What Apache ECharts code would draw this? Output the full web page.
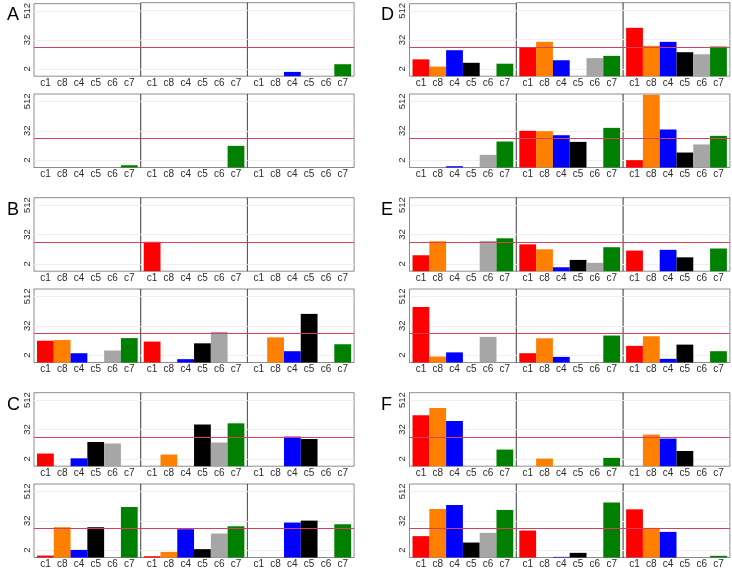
<!DOCTYPE html>
<html>
<head>
<meta charset="utf-8">
<script src="https://cdn.jsdelivr.net/npm/echarts@6/dist/echarts.min.js"></script>
<style>html,body{margin:0;padding:0;background:#fff}#chart{width:732px;height:572px}</style>
</head>
<body>
<div id="chart"></div>
<script>
// categories and colours
const cats = ['c1', 'c8', 'c4', 'c5', 'c6', 'c7'];
const barColors = ['#ff0000', '#ff7f00', '#0000ff', '#000000', '#a6a6a6', '#008000'];
const yTickValues = [2, 32, 512];
const threshold = 16;

// each block: three panels (left, middle, right), values per category (null = no bar)
const A1 = [
  [null, null, null, null, null, null],
  [null, null, null, null, null, null],
  [null, null, 1.5, null, null, 3.1]
];
const A2 = [
  [null, null, null, null, null, 1.24],
  [null, null, null, null, null, 7.7],
  [null, null, null, null, null, null]
];
const B1 = [
  [null, null, null, null, null, null],
  [16, null, null, null, null, null],
  [null, null, null, null, null, null]
];
const B2 = [
  [7.8, 8.3, 2.4, null, 3.1, 10],
  [7.2, null, 1.37, 6.1, 18, null],
  [null, 10.7, 2.9, 98, null, 5.6]
];
const C1 = [
  [3.3, null, 2.1, 9.8, 8.5, null],
  [null, 3.0, null, 51, 9.3, 57],
  [null, null, 16.3, 13, null, null]
];
const C2 = [
  [1.2, 17.4, 2.05, 17.4, null, 118],
  [1.13, 1.7, 14.4, 2.2, 9.6, 19],
  [null, null, 27, 32.4, null, 23]
];
const D1 = [
  [5, 2.5, 12, 3.6, null, 3.3],
  [15.5, 25.5, 4.5, null, 5.5, 6.8],
  [96, 17.5, 25.5, 9.6, 7.9, 16.4]
];
const D2 = [
  [null, null, 1.13, null, 3.3, 11.6],
  [31.8, 30.7, 21, 11.2, null, 42],
  [2.0, 950, 36, 4.1, 8.8, 19.8]
];
const E1 = [
  [4.5, 16.8, null, null, 17.4, 22.3],
  [12.6, 7.9, 1.45, 2.9, 2.2, 9.6],
  [7.0, null, 7.5, 3.7, null, 8.5]
];
const E2 = [
  [189, 1.75, 2.6, null, 11.2, null],
  [2.4, 9.8, 1.7, null, null, 12.7],
  [4.8, 11.9, 1.41, 5.4, null, 2.9]
];
const F1 = [
  [121, 242, 71, null, null, 4.8],
  [null, 2.05, null, null, null, 2.2],
  [null, 19.7, 13.5, 4.2, null, null]
];
const F2 = [
  [7.5, 97, 142, 4.1, 10.2, 89],
  [12.7, null, 1.06, 1.55, null, 177],
  [94, 16.3, 11.2, null, null, 1.17]
];

// layout
const groups = [
  {letter: 'A', rows: [A1, A2], col: 0, row: 0},
  {letter: 'B', rows: [B1, B2], col: 0, row: 1},
  {letter: 'C', rows: [C1, C2], col: 0, row: 2},
  {letter: 'D', rows: [D1, D2], col: 1, row: 0},
  {letter: 'E', rows: [E1, E2], col: 1, row: 1},
  {letter: 'F', rows: [F1, F2], col: 1, row: 2}
];
const colX = [34, 409.5];
const panelW = [106.7, 106.8];
const groupY = [2.7, 197.7, 392.7];
const rowOff = [0, 91.3];
const gridH = 73.5;
const letterX = [2, 376];
const FONT = '"Liberation Sans", Arial, Helvetica, sans-serif';
const RED_LINE = '#d6405f';

const grids = [], xAxes = [], yAxes = [], series = [], titles = [];
let idx = 0;
groups.forEach(g => {
  titles.push({
    text: g.letter, left: letterX[g.col], top: groupY[g.row] - 2,
    textStyle: {fontSize: 18, fontWeight: 'normal', color: '#000', fontFamily: FONT}
  });
  g.rows.forEach((rowData, r) => {
    rowData.forEach((vals, p) => {
      const w = panelW[g.col];
      grids.push({
        left: colX[g.col] + p * w, top: groupY[g.row] + rowOff[r],
        width: w, height: gridH, show: true,
        borderColor: 'rgba(0,0,0,0.45)', borderWidth: 1, backgroundColor: 'transparent'
      });
      xAxes.push({
        type: 'value', gridIndex: idx, min: 0.32, max: 6.68,
        axisLine: {show: false}, axisTick: {show: false}, splitLine: {show: false},
        axisLabel: {
          customValues: [1, 2, 3, 4, 5, 6], formatter: v => cats[Math.round(v) - 1],
          margin: 2, fontSize: 10, color: '#2b2b2b', fontFamily: FONT
        }
      });
      yAxes.push({
        type: 'value', gridIndex: idx, min: 0, max: 10,
        axisLine: {show: false},
        axisTick: {show: false, customValues: yTickValues.map(Math.log2)},
        splitLine: {show: true, lineStyle: {color: '#efefef', width: 1}},
        axisLabel: {
          show: p === 0, customValues: yTickValues.map(Math.log2),
          formatter: v => String(Math.round(Math.pow(2, v))),
          rotate: 90, margin: 2, fontSize: 9.5, color: '#2b2b2b', fontFamily: FONT
        }
      });
      const data = [];
      vals.forEach((v, j) => {
        if (v != null) data.push({value: [j + 1, Math.log2(v)], itemStyle: {color: barColors[j]}});
      });
      series.push({
        type: 'bar', xAxisIndex: idx, yAxisIndex: idx, barWidth: w / 6.36,
        data: data, animation: false,
        markLine: {
          silent: true, symbol: ['none', 'none'], animation: false,
          label: {show: false},
          emphasis: {disabled: true},
          lineStyle: {color: RED_LINE, width: 1, type: 'solid'},
          data: [{yAxis: Math.log2(threshold)}]
        }
      });
      idx++;
    });
  });
});

const chart = echarts.init(document.getElementById('chart'), null, {renderer: 'canvas'});
chart.setOption({
  backgroundColor: '#ffffff',
  animation: false,
  title: titles,
  grid: grids,
  xAxis: xAxes,
  yAxis: yAxes,
  series: series
});
</script>
</body>
</html>
